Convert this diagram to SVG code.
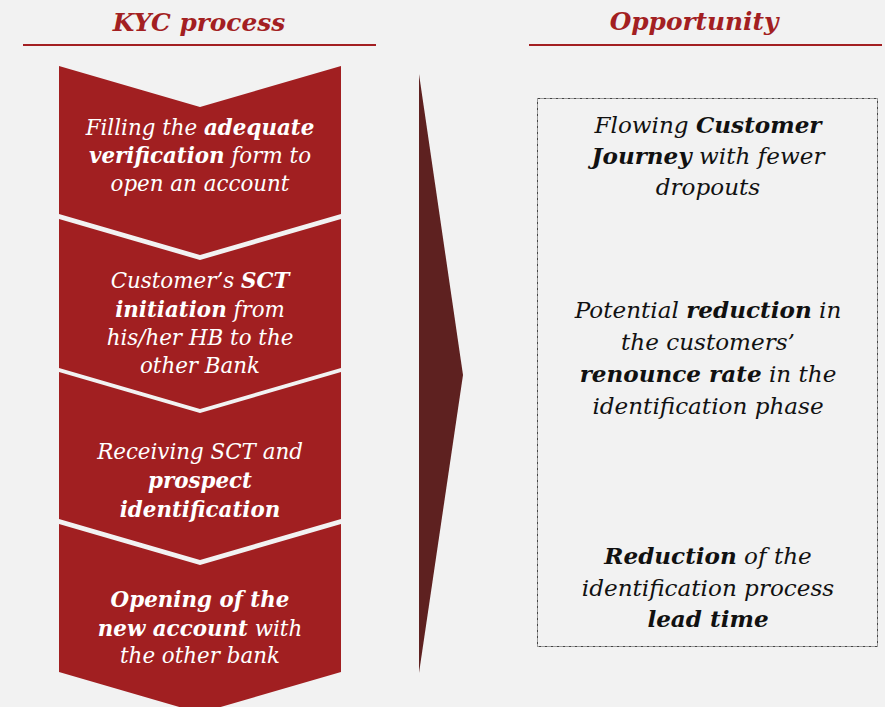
<svg xmlns="http://www.w3.org/2000/svg" width="885" height="707" viewBox="0 0 885 707">
<style>
.hdr{font-family:"DejaVu Serif","Liberation Serif",serif;font-style:italic;font-weight:bold;font-size:24.8px;fill:#a31f22;text-anchor:middle}
.rule{stroke:#a31f22;stroke-width:2}
.chev{fill:#a11f21}
.lt{font-family:"DejaVu Serif","Liberation Serif",serif;font-style:italic;font-size:21.4px;fill:#ffffff;text-anchor:middle}
.rt{font-family:"DejaVu Serif","Liberation Serif",serif;font-style:italic;font-size:23.1px;fill:#111111;text-anchor:middle}
.b{font-weight:bold}
</style>
<rect width="885" height="707" fill="#f2f2f2"/>
<g id="header-kyc">
<text class="hdr" x="199" y="31">KYC process</text>
<line class="rule" x1="23" y1="45" x2="376" y2="45"/>
</g>
<g id="header-opportunity">
<text class="hdr" x="694" y="30">Opportunity</text>
<line class="rule" x1="529" y1="45" x2="882" y2="45"/>
</g>
<g id="step1">
<polygon class="chev" points="59,66 200,107 341,66 341,214 200,255 59,214"/>
<text class="lt" x="200" y="135">Filling the <tspan class="b">adequate</tspan></text>
<text class="lt" x="200" y="163"><tspan class="b">verification</tspan> form to</text>
<text class="lt" x="200" y="191">open an account</text>
</g>
<g id="step2">
<polygon class="chev" points="59,219 200,260 341,219 341,368 200,409 59,368"/>
<text class="lt" x="200" y="288">Customer’s <tspan class="b">SCT</tspan></text>
<text class="lt" x="200" y="317"><tspan class="b">initiation</tspan> from</text>
<text class="lt" x="200" y="345">his/her HB to the</text>
<text class="lt" x="200" y="373">other Bank</text>
</g>
<g id="step3">
<polygon class="chev" points="59,372 200,413 341,372 341,519 200,560 59,519"/>
<text class="lt" x="200" y="459">Receiving SCT and</text>
<text class="lt" x="200" y="488"><tspan class="b">prospect</tspan></text>
<text class="lt" x="200" y="517"><tspan class="b">identification</tspan></text>
</g>
<g id="step4">
<polygon class="chev" points="59,524 200,565 341,524 341,672 200,713 59,672"/>
<text class="lt" x="200" y="607"><tspan class="b">Opening of the</tspan></text>
<text class="lt" x="200" y="636"><tspan class="b">new account</tspan> with</text>
<text class="lt" x="200" y="663">the other bank</text>
</g>
<g id="connectors">
<polygon fill="#5e2120" points="419,74 463,375 419,673"/>
</g>
<g id="opportunity-box">
<rect x="537.5" y="98.5" width="340" height="548" fill="none" stroke="#444" stroke-width="1" stroke-dasharray="3,1,1,1"/>
<text class="rt" x="708" y="133">Flowing <tspan class="b">Customer</tspan></text>
<text class="rt" x="708" y="164"><tspan class="b">Journey</tspan> with fewer</text>
<text class="rt" x="708" y="195">dropouts</text>
<text class="rt" x="708" y="318">Potential <tspan class="b">reduction</tspan> in</text>
<text class="rt" x="708" y="350">the customers’</text>
<text class="rt" x="708" y="382"><tspan class="b">renounce rate</tspan> in the</text>
<text class="rt" x="708" y="414">identification phase</text>
<text class="rt" x="708" y="564"><tspan class="b">Reduction</tspan> of the</text>
<text class="rt" x="708" y="596">identification process</text>
<text class="rt" x="708" y="627"><tspan class="b">lead time</tspan></text>
</g>
</svg>
